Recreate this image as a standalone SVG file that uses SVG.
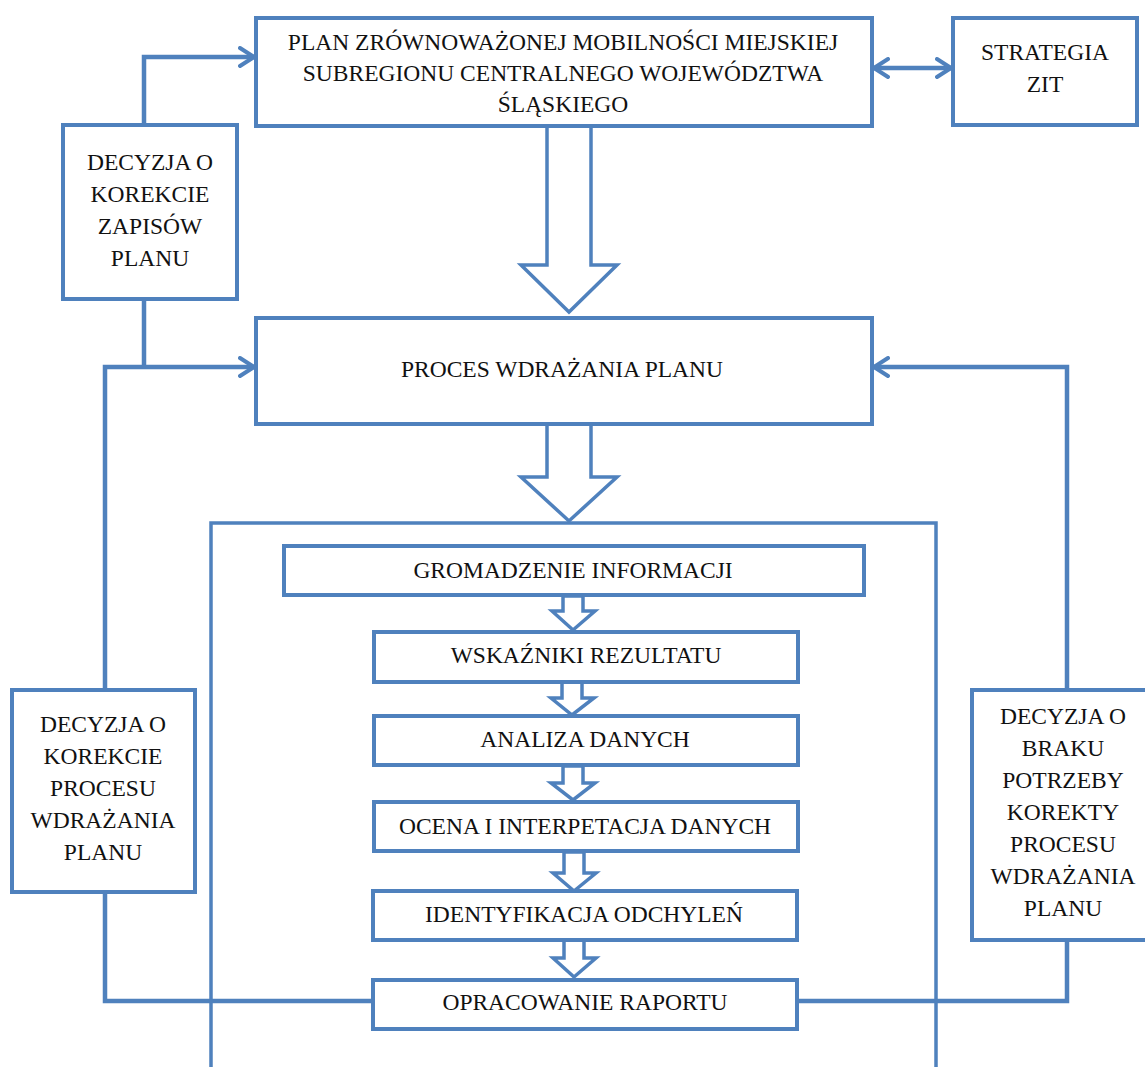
<svg xmlns="http://www.w3.org/2000/svg" width="1145" height="1067" viewBox="0 0 1145 1067">
<style>
.box{fill:#fff;stroke:#4f81bd;stroke-width:4}
.blk{fill:#fff;stroke:#4f81bd;stroke-width:3.5;stroke-linejoin:miter}
.con{fill:none;stroke:#4f81bd;stroke-width:4.5}
.t{font-family:"Liberation Serif","Times New Roman",serif;font-size:23.5px;fill:#111;text-anchor:middle}
</style>
<defs>
<marker id="ch" viewBox="0 0 18 22" refX="16" refY="11" markerWidth="18" markerHeight="22" markerUnits="userSpaceOnUse" orient="auto-start-reverse">
<path d="M2,2 L16,11 L2,20" fill="none" stroke="#4f81bd" stroke-width="4" stroke-linecap="round" stroke-linejoin="round"/>
</marker>
</defs>
<rect width="1145" height="1067" fill="#fff"/>

<g id="connectors">
<path class="con" d="M144,125 V57 H254" marker-end="url(#ch)"/>
<path class="con" d="M144,299 V367"/>
<path class="con" d="M105,690 V367 H254" marker-end="url(#ch)"/>
<path class="con" d="M105,892 V1001 H374"/>
<path class="con" d="M1067,690 V367 H874" marker-end="url(#ch)"/>
<path class="con" d="M1067,940 V1001 H797"/>
<path class="con" d="M874,68 H951" marker-start="url(#ch)" marker-end="url(#ch)"/>
<polygon class="blk" points="547,126 547,265 521,265 569,312 617,265 591,265 591,126"/>
<polygon class="blk" points="547,424 547,477 521,477 569,521 617,477 591,477 591,424"/>
<polygon class="blk" points="563,596 563,611 552,611 573,630 595,611 583,611 583,596"/>
<polygon class="blk" points="562,682 562,698 551,698 572,715 594,698 582,698 582,682"/>
<polygon class="blk" points="563,766 563,783 551,783 573,800 595,783 583,783 583,766"/>
<polygon class="blk" points="564,852 564,873 553,873 574,891 596,873 584,873 584,852"/>
<polygon class="blk" points="564,940 564,958 553,958 574,977 596,958 584,958 584,940"/>
</g>

<g id="container">
<path fill="none" stroke="#4f81bd" stroke-width="3.5" d="M211,1067 V523 H936 V1067"/>
</g>

<g id="plan">
<rect class="box" x="256" y="18" width="616" height="108"/>
<text class="t" x="563" y="50">PLAN ZRÓWNOWAŻONEJ MOBILNOŚCI MIEJSKIEJ</text>
<text class="t" x="563" y="81">SUBREGIONU CENTRALNEGO WOJEWÓDZTWA</text>
<text class="t" x="563" y="112">ŚLĄSKIEGO</text>
</g>

<g id="strategia">
<rect class="box" x="953" y="18" width="184" height="107"/>
<text class="t" x="1045" y="60">STRATEGIA</text>
<text class="t" x="1045" y="92">ZIT</text>
</g>

<g id="decyzja-zapisy">
<rect class="box" x="63" y="125" width="174" height="174"/>
<text class="t" x="150" y="170">DECYZJA O</text>
<text class="t" x="150" y="202">KOREKCIE</text>
<text class="t" x="150" y="234">ZAPISÓW</text>
<text class="t" x="150" y="266">PLANU</text>
</g>

<g id="proces">
<rect class="box" x="256" y="318" width="616" height="106"/>
<text class="t" x="562" y="377">PROCES WDRAŻANIA PLANU</text>
</g>

<g id="gromadzenie">
<rect class="box" x="284" y="546" width="580" height="49"/>
<text class="t" x="573" y="578">GROMADZENIE INFORMACJI</text>
</g>

<g id="wskazniki">
<rect class="box" x="374" y="632" width="424" height="50"/>
<text class="t" x="586" y="663">WSKAŹNIKI REZULTATU</text>
</g>

<g id="analiza">
<rect class="box" x="374" y="716" width="424" height="49"/>
<text class="t" x="585" y="747">ANALIZA DANYCH</text>
</g>

<g id="ocena">
<rect class="box" x="374" y="802" width="424" height="49"/>
<text class="t" x="585" y="834">OCENA I INTERPETACJA DANYCH</text>
</g>

<g id="identyfikacja">
<rect class="box" x="373" y="891" width="424" height="49"/>
<text class="t" x="584" y="922">IDENTYFIKACJA ODCHYLEŃ</text>
</g>

<g id="opracowanie">
<rect class="box" x="373" y="980" width="424" height="49"/>
<text class="t" x="585" y="1010">OPRACOWANIE RAPORTU</text>
</g>

<g id="decyzja-proces">
<rect class="box" x="12" y="690" width="183" height="202"/>
<text class="t" x="103" y="732">DECYZJA O</text>
<text class="t" x="103" y="764">KOREKCIE</text>
<text class="t" x="103" y="796">PROCESU</text>
<text class="t" x="103" y="828">WDRAŻANIA</text>
<text class="t" x="103" y="860">PLANU</text>
</g>

<g id="decyzja-brak">
<rect class="box" x="972" y="690" width="180" height="250"/>
<text class="t" x="1063" y="724">DECYZJA O</text>
<text class="t" x="1063" y="756">BRAKU</text>
<text class="t" x="1063" y="788">POTRZEBY</text>
<text class="t" x="1063" y="820">KOREKTY</text>
<text class="t" x="1063" y="852">PROCESU</text>
<text class="t" x="1063" y="884">WDRAŻANIA</text>
<text class="t" x="1063" y="916">PLANU</text>
</g>
</svg>
